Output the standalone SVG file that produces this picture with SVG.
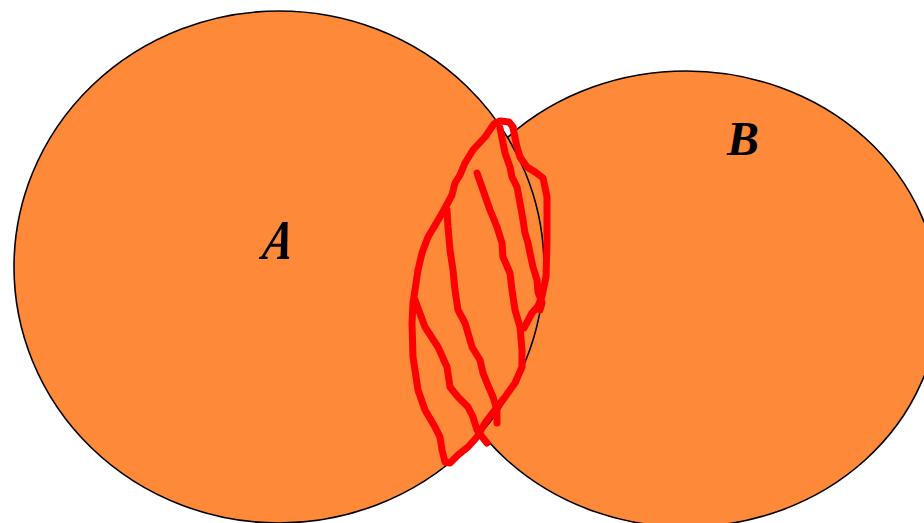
<svg xmlns="http://www.w3.org/2000/svg" width="924" height="523" viewBox="0 0 924 523">
<style>
.set{fill:#FD8939;stroke:#000;stroke-width:1.6}
.lbl{font-family:"Liberation Serif","Times New Roman",serif;font-weight:bold;font-style:italic;fill:#000}
.hatch{fill:none;stroke:#FF0000;stroke-width:7;stroke-linecap:round;stroke-linejoin:round}
</style>
<rect width="924" height="523" fill="#fff"/>
<g id="setB">
<ellipse class="set" cx="686" cy="299" rx="253" ry="228"/>
<text class="lbl" x="727" y="155" font-size="48">B</text>
</g>
<g id="setA">
<ellipse class="set" cx="279" cy="267" rx="265" ry="256"/>
<text class="lbl" transform="translate(261,259) skewX(-10) scale(0.8,1)" x="0" y="0" font-size="56">A</text>
</g>
<g id="connectors">
<path class="hatch" d="M513,127 L509,122 L500,121 L494,124 L485,137 L473,150 L465,163 L460,175 L455,183 L452,195 L445,208 L437,222 L428,237 L422,253 L418,270 L415,290 L413,303 L412,323 L413,357 L418,390 L425,410 L435,427 L440,437 L442,450 L445,462 L450,463 L458,455 L468,447 L477,437 L485,423 L495,410 L505,397 L515,383 L522,367 L522,350 L520,327 L515,310 L512,290 L510,273 L503,257 L502,243 L497,227 L490,210 L483,190 L477,173"/>
<path class="hatch" d="M513,128 L517,147 L520,157 L527,167 L535,172 L543,178 L547,197 L547,243 L546,277 L542,296 L538,306 L532,313 L524,328"/>
<path class="hatch" d="M500,128 L503,143 L505,153 L510,167 L512,177 L517,187 L520,203 L523,220 L525,233 L528,243 L530,253 L533,267 L537,280 L538,292 L542,303 L540,310"/>
<path class="hatch" d="M447,210 L448,227 L450,250 L453,270 L455,290 L458,310 L465,323 L468,333 L472,347 L480,360 L483,373 L487,383 L493,397 L497,410 L497,423"/>
<path class="hatch" d="M415,300 L425,327 L438,347 L447,367 L450,387 L458,397 L468,407 L473,417 L477,430 L483,438 L487,443"/>
</g>
</svg>
